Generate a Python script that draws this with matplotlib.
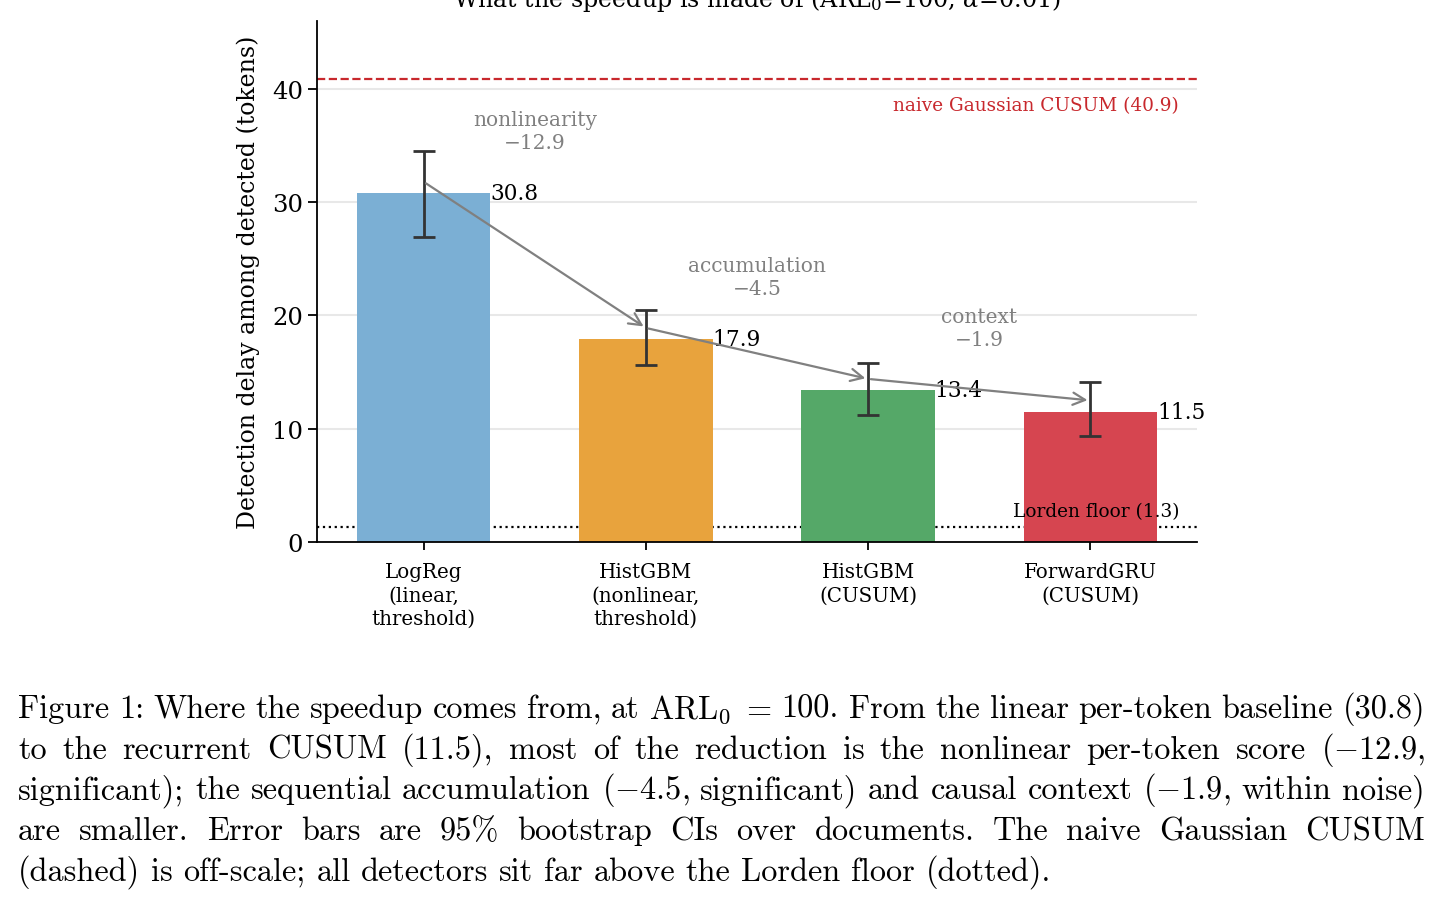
import matplotlib
matplotlib.use('Agg')
from matplotlib import pyplot as plt
import numpy as np

# data
models = ['LogReg\n(linear,\nthreshold)', 'HistGBM\n(nonlinear,\nthreshold)',
          'HistGBM\n(CUSUM)', 'ForwardGRU\n(CUSUM)']
delay = [30.8, 17.9, 13.4, 11.5]
ci_lo = [26.9, 15.6, 11.2, 9.4]
ci_hi = [34.5, 20.5, 15.8, 14.1]
step_names = ['nonlinearity', 'accumulation', 'context']
step_delta = [-12.9, -4.5, -1.9]
naive_cusum = 40.9
lorden_floor = 1.3
colors = ['#7bafd4', '#e8a33d', '#55a868', '#d64550']

caption = [
    r"Figure 1: Where the speedup comes from, at $\mathrm{ARL}_0$ $=$ 100. From the linear per-token baseline (30.8)",
    r"to the recurrent CUSUM (11.5), most of the reduction is the nonlinear per-token score ($-$12.9,",
    r"significant); the sequential accumulation ($-$4.5, significant) and causal context ($-$1.9, within noise)",
    r"are smaller.  Error bars are 95% bootstrap CIs over documents.  The naive Gaussian CUSUM",
    r"(dashed) is off-scale; all detectors sit far above the Lorden floor (dotted).",
]

plt.rcParams['font.family'] = 'DejaVu Serif'
plt.rcParams['mathtext.fontset'] = 'dejavuserif'

W, H = 1443, 904
fig = plt.figure(figsize=(W / 100, H / 100), dpi=100)
ax = fig.add_axes([317 / W, 1 - 543 / H, 880 / W, 521 / H])

x = np.arange(len(delay))
d = np.array(delay)
err = [d - np.array(ci_lo), np.array(ci_hi) - d]
ax.bar(x, delay, width=0.6, color=colors, zorder=2)
ax.errorbar(x, delay, yerr=err, fmt='none', ecolor='#333333', elinewidth=2,
            capsize=8, capthick=2, zorder=3)

for i, v in enumerate(delay):
    ax.text(i + 0.3, v, f'{v:.1f}', ha='left', va='center', fontsize=15.6, zorder=4)

for i, (name, dl) in enumerate(zip(step_names, step_delta)):
    ax.annotate('', xy=(i + 1, delay[i + 1] + 1), xytext=(i, delay[i] + 1),
                arrowprops=dict(arrowstyle='->', color='gray', lw=1.6,
                                mutation_scale=22), zorder=4)
    ax.text(i + 0.5, max(delay[i], delay[i + 1]) + 3.6,
            f'{name}\n\u2212{abs(dl):.1f}', ha='center', va='bottom',
            color='gray', fontsize=14.5, linespacing=1.3)

ax.axhline(naive_cusum, color='#c8282d', ls='--', lw=1.6, zorder=1)
ax.text(3.4, naive_cusum - 1.5, f'naive Gaussian CUSUM ({naive_cusum})',
        ha='right', va='top', color='#c8282d', fontsize=13.3)
ax.axhline(lorden_floor, color='black', ls=':', lw=1.6, zorder=1)
ax.text(3.4, lorden_floor + 0.6, f'Lorden floor ({lorden_floor})',
        ha='right', va='bottom', color='black', fontsize=13.3, zorder=4)

ax.set_ylim(0, 46)
ax.set_yticks([0, 10, 20, 30, 40])
ax.set_xticks(x)
ax.set_xticklabels(models, fontsize=14.3, linespacing=1.3)
ax.tick_params(axis='y', labelsize=17.5, length=6.5, width=1.3)
ax.tick_params(axis='x', length=6, width=1.3, pad=8.5)
ax.yaxis.grid(True, color='#e8e8e8', lw=1.5, zorder=0)
ax.set_axisbelow(True)
for s in ['top', 'right']:
    ax.spines[s].set_visible(False)
for s in ['left', 'bottom']:
    ax.spines[s].set_linewidth(1.3)
ax.set_ylabel('Detection delay among detected (tokens)', fontsize=17, labelpad=9)
ax.set_title(r'What the speedup is made of (ARL$_0$=100, $\alpha$=0.01)',
             fontsize=17.1, pad=11)

# caption, justified like the LaTeX one
r = fig.canvas.get_renderer()
x0, x1 = 18, 1425
cap_size = 23.3
for k, line in enumerate(caption):
    y = 1 - (718 + 40.7 * k) / H
    words = [w for w in line.split(' ') if w != '']
    ts = [fig.text(0, y, w, fontsize=cap_size, family='cmr10',
                   math_fontfamily='cm', va='baseline') for w in words]
    ws = [t.get_window_extent(r).width for t in ts]
    if k < len(caption) - 1:
        gap = (x1 - x0 - sum(ws)) / (len(ws) - 1)
    else:
        gap = 0.46 * cap_size
    pos = x0
    for t, w in zip(ts, ws):
        t.set_x(pos / W)
        pos += w + gap

fig.savefig('out.png', dpi=100)
